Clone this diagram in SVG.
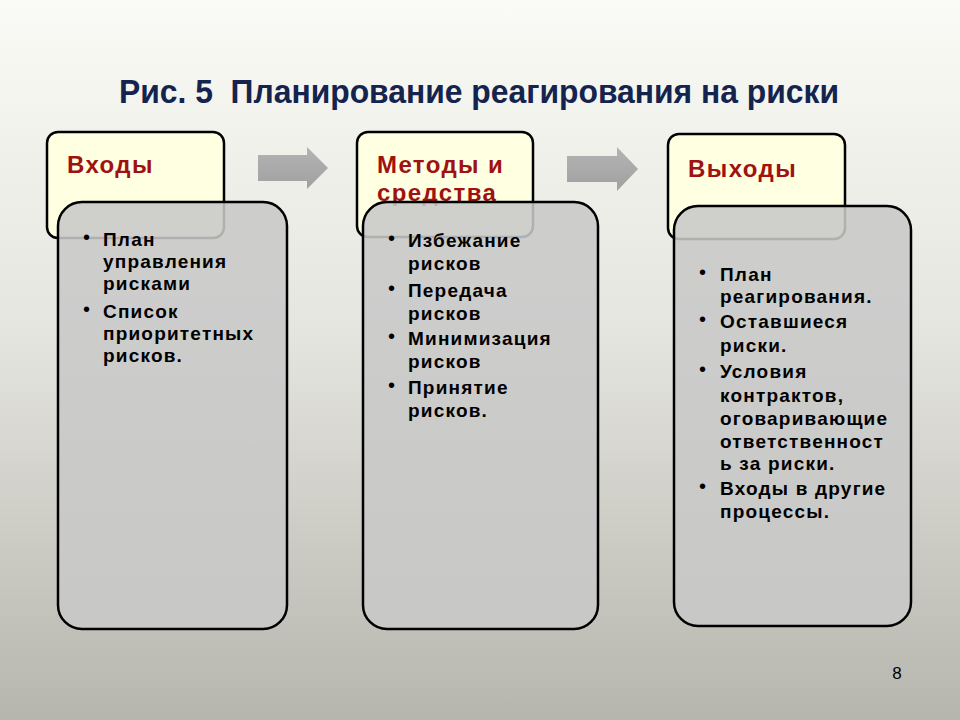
<svg xmlns="http://www.w3.org/2000/svg" width="960" height="720" viewBox="0 0 960 720">
<defs>
<linearGradient id="bg" x1="0" y1="0" x2="0" y2="1">
<stop offset="0" stop-color="#fafaf6"/>
<stop offset="0.45" stop-color="#e6e6e0"/>
<stop offset="1" stop-color="#b6b6ae"/>
</linearGradient>
<linearGradient id="arr" x1="0" y1="0" x2="0" y2="1">
<stop offset="0" stop-color="#b4b4b4"/>
<stop offset="1" stop-color="#a0a0a0"/>
</linearGradient>
</defs>
<style>
.hdr{fill:#ffffe2;stroke:#000;stroke-width:2.5}
.body{fill:#c8c8c8;fill-opacity:0.88;stroke:#000;stroke-width:2.5}
.ht{font-family:"Liberation Sans",Arial,sans-serif;font-weight:bold;font-size:24px;letter-spacing:1.4px;fill:#a01212}
.bt{font-family:"Liberation Sans",Arial,sans-serif;font-weight:bold;font-size:19px;letter-spacing:1.2px;fill:#000}
.bu{font-family:"Liberation Sans",Arial,sans-serif;font-size:20px;fill:#000}
.arrow{fill:url(#arr)}
</style>
<rect width="960" height="720" fill="url(#bg)"/>
<text x="479" y="103" text-anchor="middle" font-family="'Liberation Sans',Arial,sans-serif" font-weight="bold" font-size="33" fill="#14244e" textLength="720" lengthAdjust="spacingAndGlyphs">Рис. 5&#160; Планирование реагирования на риски</text>
<g id="connectors">
<path class="arrow" d="M258,155 H307 V147 L328,168 L307,189 V181 H258 Z"/>
<path class="arrow" d="M567,156 H617 V147 L638,169 L617,191 V182 H567 Z"/>
</g>
<g id="inputs">
<rect class="hdr" x="47" y="132" width="177" height="106" rx="11"/>
<text class="ht" x="67" y="173">Входы</text>
<rect class="body" x="58" y="202" width="229" height="427" rx="24"/>
<g class="bu">
<text x="83" y="244">•</text>
<text x="83" y="316">•</text>
</g>
<g class="bt">
<text x="103" y="246">План</text>
<text x="103" y="268">управления</text>
<text x="103" y="290">рисками</text>
<text x="103" y="318">Список</text>
<text x="103" y="340">приоритетных</text>
<text x="103" y="362">рисков.</text>
</g>
</g>
<g id="methods">
<rect class="hdr" x="357" y="132" width="176" height="105" rx="11"/>
<text class="ht" x="377" y="173">Методы и</text>
<text class="ht" x="377" y="201">средства</text>
<rect class="body" x="363" y="202" width="235" height="427" rx="24"/>
<g class="bu">
<text x="388" y="245">•</text>
<text x="388" y="295">•</text>
<text x="388" y="343">•</text>
<text x="388" y="392">•</text>
</g>
<g class="bt">
<text x="408" y="247">Избежание</text>
<text x="408" y="270">рисков</text>
<text x="408" y="297">Передача</text>
<text x="408" y="320">рисков</text>
<text x="408" y="345">Минимизация</text>
<text x="408" y="368">рисков</text>
<text x="408" y="394">Принятие</text>
<text x="408" y="417">рисков.</text>
</g>
</g>
<g id="outputs">
<rect class="hdr" x="668" y="134" width="177" height="105" rx="11"/>
<text class="ht" x="688" y="177">Выходы</text>
<rect class="body" x="674" y="206" width="237" height="420" rx="24"/>
<g class="bu">
<text x="699" y="279">•</text>
<text x="699" y="326">•</text>
<text x="699" y="376">•</text>
<text x="699" y="493">•</text>
</g>
<g class="bt">
<text x="720" y="281">План</text>
<text x="720" y="303">реагирования.</text>
<text x="720" y="328">Оставшиеся</text>
<text x="720" y="352">риски.</text>
<text x="720" y="378">Условия</text>
<text x="720" y="402">контрактов,</text>
<text x="720" y="425">оговаривающие</text>
<text x="720" y="448">ответственност</text>
<text x="720" y="470">ь за риски.</text>
<text x="720" y="495">Входы в другие</text>
<text x="720" y="518">процессы.</text>
</g>
</g>
<text x="897" y="679" text-anchor="middle" font-family="'Liberation Sans',Arial,sans-serif" font-size="17" fill="#000">8</text>
</svg>
